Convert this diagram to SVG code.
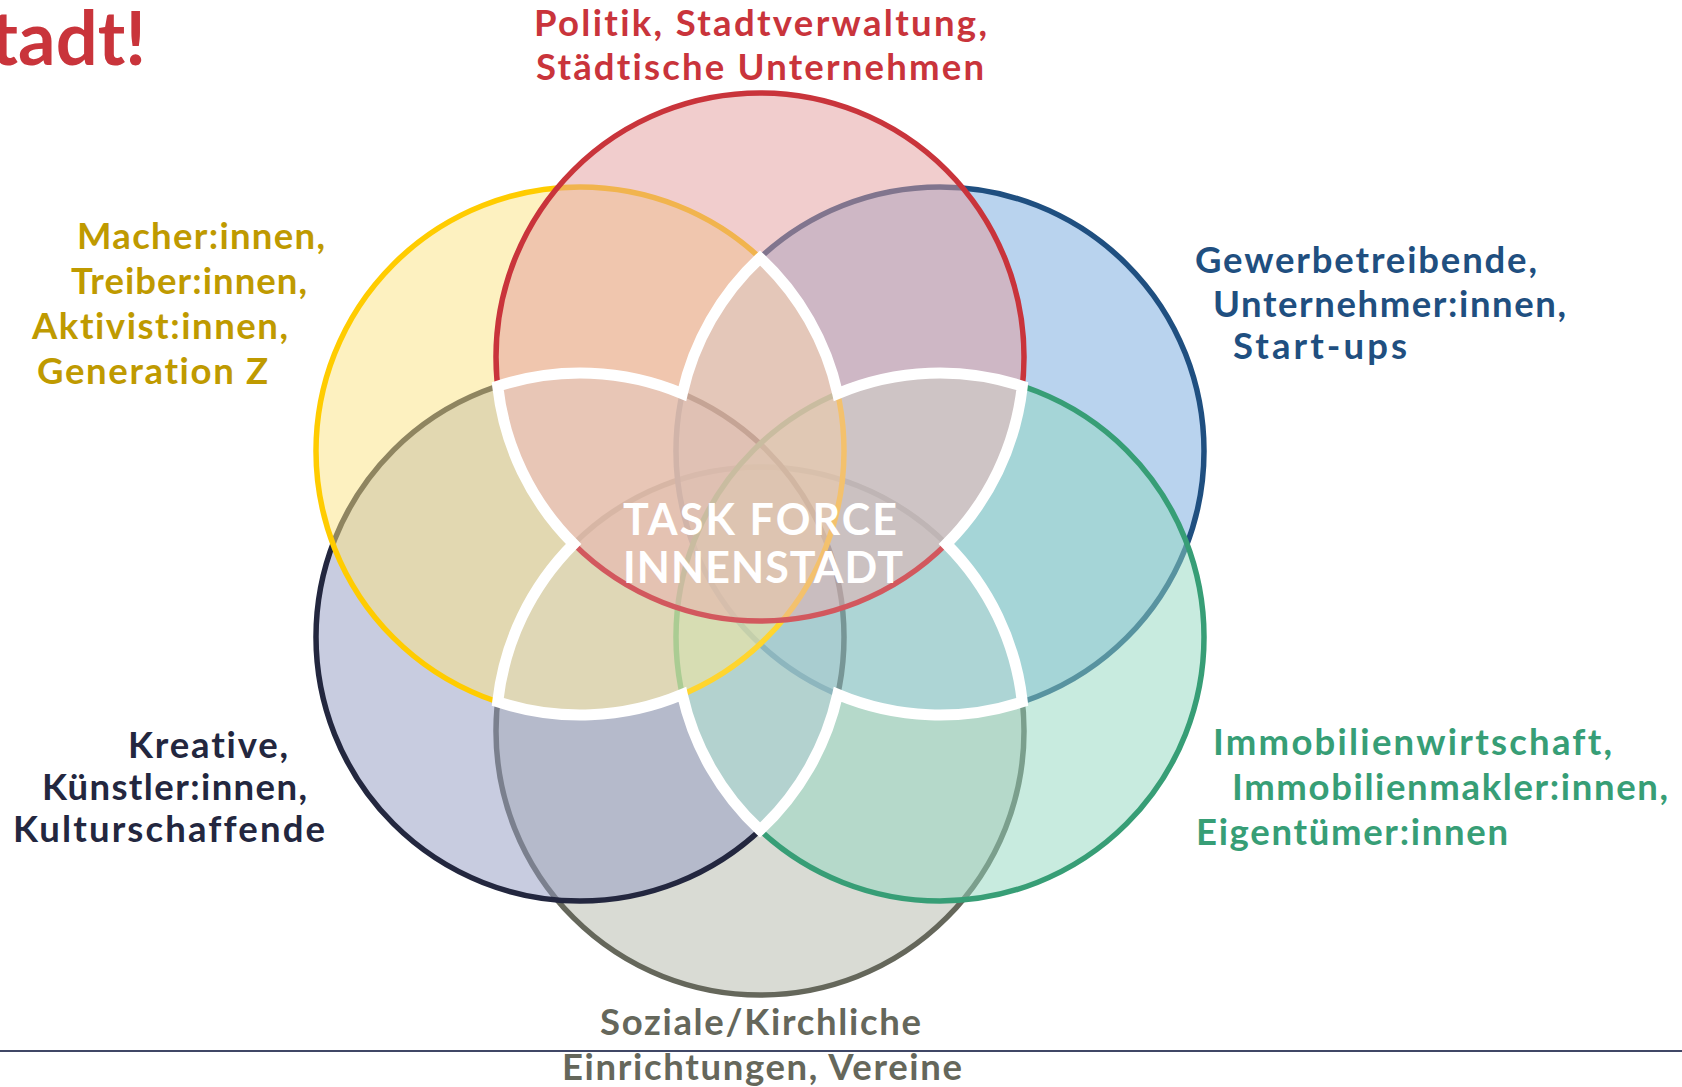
<svg xmlns="http://www.w3.org/2000/svg" width="1682" height="1087" viewBox="0 0 1682 1087">
<style>
text{font-family:Lato,"Open Sans","Liberation Sans",sans-serif;font-weight:700;font-variant-ligatures:none;font-feature-settings:"liga" 0,"dlig" 0;}
.lbl{font-size:36.5px;}
.ring{stroke-width:5.5;fill-opacity:0.5;}
.c-red{fill:#c9343b;} .c-gold{fill:#bf9a00;} .c-blue{fill:#1f4f80;} .c-navy{fill:#23273f;} .c-green{fill:#379e76;} .c-gray{fill:#65675b;}
.center{fill:#ffffff;font-size:43px;}
</style>
<rect width="1682" height="1087" fill="#ffffff"/>
<text x="146" y="65" font-size="74" text-anchor="end" fill="#c9343b">tadt!</text>
<line x1="0" y1="1051" x2="1682" y2="1051" stroke="#404766" stroke-width="2.2"/>

<g id="node-gray">
<circle class="ring" cx="760" cy="731" r="264" fill="#b3b7a9" stroke="#65675b"/>
</g>
<g id="node-blue">
<circle class="ring" cx="940" cy="451" r="264" fill="#73a7dd" stroke="#1f4f80"/>
</g>
<g id="node-navy">
<circle class="ring" cx="580" cy="637" r="264" fill="#9199c1" stroke="#23273f"/>
</g>
<g id="node-green">
<circle class="ring" cx="940" cy="637" r="264" fill="#91d7bf" stroke="#379e76"/>
</g>
<g id="node-yellow">
<circle class="ring" cx="580" cy="451" r="264" fill="#fbe381" stroke="#ffcc00"/>
</g>
<g id="node-red">
<circle class="ring" cx="760" cy="357" r="264" fill="#e39b9b" stroke="#c9343b"/>
</g>

<g id="connectors">
<path d="M760,257.9 A264,264 0 0 1 837.7,393.6 A264,264 0 0 1 1022.3,386.2 A264,264 0 0 1 946.4,544 A264,264 0 0 1 1022.3,701.8 A264,264 0 0 1 837.7,694.4 A264,264 0 0 1 760,830.1 A264,264 0 0 1 682.3,694.4 A264,264 0 0 1 497.7,701.8 A264,264 0 0 1 573.6,544 A264,264 0 0 1 497.7,386.2 A264,264 0 0 1 682.3,393.6 A264,264 0 0 1 760,257.9 Z" fill="#ffffff" fill-opacity="0.18" stroke="#ffffff" stroke-width="11" stroke-linejoin="miter"/>
</g>

<g id="node-center">
<text class="center" x="623" y="535" textLength="274">TASK FORCE</text>
<text class="center" x="623" y="583" textLength="280">INNENSTADT</text>
</g>

<g id="label-red" class="c-red">
<text class="lbl" x="534" y="36" textLength="453">Politik, Stadtverwaltung,</text>
<text class="lbl" x="536" y="80" textLength="448">Städtische Unternehmen</text>
</g>
<g id="label-yellow" class="c-gold">
<text class="lbl" x="77" y="249" textLength="248">Macher:innen,</text>
<text class="lbl" x="71" y="294" textLength="236">Treiber:innen,</text>
<text class="lbl" x="32" y="339" textLength="256">Aktivist:innen,</text>
<text class="lbl" x="37" y="384" textLength="231">Generation Z</text>
</g>
<g id="label-blue" class="c-blue">
<text class="lbl" x="1195" y="273" textLength="342">Gewerbetreibende,</text>
<text class="lbl" x="1213" y="317" textLength="353">Unternehmer:innen,</text>
<text class="lbl" x="1233" y="359" textLength="174">Start-ups</text>
</g>
<g id="label-navy" class="c-navy">
<text class="lbl" x="128" y="758" textLength="160">Kreative,</text>
<text class="lbl" x="42" y="800" textLength="265">Künstler:innen,</text>
<text class="lbl" x="13" y="842" textLength="312">Kulturschaffende</text>
</g>
<g id="label-green" class="c-green">
<text class="lbl" x="1213" y="755" textLength="399">Immobilienwirtschaft,</text>
<text class="lbl" x="1232" y="800" textLength="436">Immobilienmakler:innen,</text>
<text class="lbl" x="1196" y="845" textLength="312">Eigentümer:innen</text>
</g>
<g id="label-gray" class="c-gray">
<text class="lbl" x="600" y="1035" textLength="321">Soziale/Kirchliche</text>
<text class="lbl" x="562" y="1080" textLength="400">Einrichtungen, Vereine</text>
</g>
</svg>
